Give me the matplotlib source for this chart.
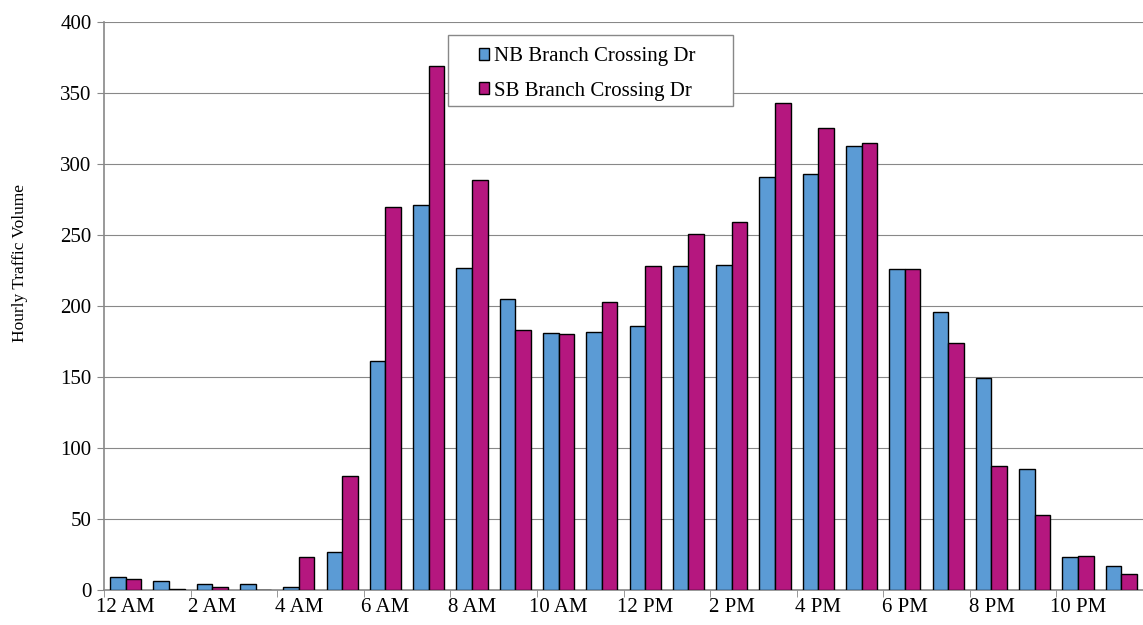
import numpy as np
import matplotlib
matplotlib.use("Agg")
from matplotlib import pyplot as plt
from matplotlib.patches import Rectangle

plt.rcParams['font.family'] = ['Liberation Serif', 'DejaVu Serif']

hours = np.arange(24)
hour_labels = ['12 AM', '2 AM', '4 AM', '6 AM', '8 AM', '10 AM',
               '12 PM', '2 PM', '4 PM', '6 PM', '8 PM', '10 PM']
nb = [9, 6, 4, 4, 2, 27, 161, 271, 227, 205, 181, 182,
      186, 228, 229, 291, 293, 313, 226, 196, 149, 85, 23, 17]
sb = [8, 1, 2, 0, 23, 80, 270, 369, 289, 183, 180, 203,
      228, 251, 259, 343, 325, 315, 226, 174, 87, 53, 24, 11]

fig = plt.figure(figsize=(11.43, 6.25), dpi=100)
ax = fig.add_axes([104/1143, 35/625, 1 - 104/1143, 568/625])

w = 0.36
ax.bar(hours - w/2, nb, w, color='#5B9BD5', edgecolor='black', linewidth=1.0,
       label='NB Branch Crossing Dr', zorder=3)
ax.bar(hours + w/2, sb, w, color='#B5177F', edgecolor='black', linewidth=1.0,
       label='SB Branch Crossing Dr', zorder=3)

ax.set_ylim(0, 400)
ax.set_yticks(np.arange(0, 401, 50))
ax.set_xlim(-0.5, -0.5 + (1143 - 104) / 43.8)
ax.yaxis.grid(True, color='#888888', linewidth=0.8, zorder=0)

# labels at every other hour centre, tick marks at category edges
ax.set_xticks(hours[::2])
ax.set_xticklabels(hour_labels)
ax.tick_params(axis='x', length=0, labelsize=15, pad=6)
ax.set_xticks(np.arange(-0.5, 24, 2), minor=True)
ax.tick_params(axis='x', which='minor', length=5, color='#888888')
ax.tick_params(axis='y', length=5, color='#888888', labelsize=15, pad=4)

for s in ['top', 'right']:
    ax.spines[s].set_visible(False)
for s in ['left', 'bottom']:
    ax.spines[s].set_color('#888888')
    ax.spines[s].set_linewidth(1.2)

ax.set_ylabel('Hourly Traffic Volume', fontsize=12.5)
ax.yaxis.set_label_coords(-0.073, 0.576)

# legend box drawn separately so it can be wider than the entries
ax.add_patch(Rectangle((0.331, 0.852), 0.2743, 0.125, transform=ax.transAxes,
                       facecolor='white', edgecolor='#888888', linewidth=1.0,
                       zorder=4))
leg = ax.legend(loc='upper left', bbox_to_anchor=(0.361, 0.956), fontsize=15,
                frameon=False, handlelength=0.5, handleheight=0.5,
                handletextpad=0.2, borderpad=0, labelspacing=0.75, borderaxespad=0)
leg.set_zorder(5)

fig.savefig('out.png', dpi=100)
